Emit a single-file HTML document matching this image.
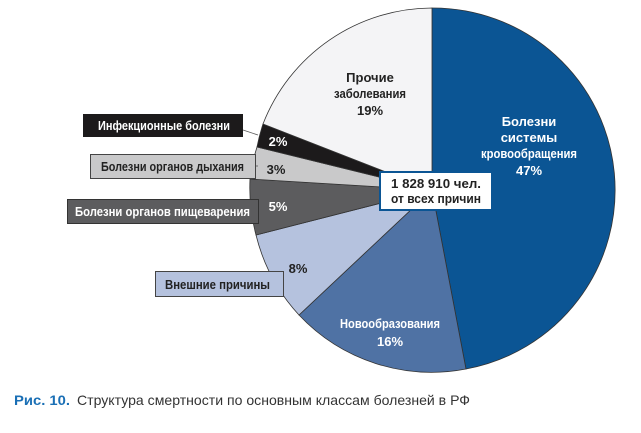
<!DOCTYPE html>
<html><head><meta charset="utf-8"><style>
body{margin:0;background:#fff;width:641px;height:428px;overflow:hidden}
svg text{font-family:"Liberation Sans",sans-serif;font-weight:bold;font-size:13px}
</style></head><body>
<svg width="641" height="428" viewBox="0 0 641 428">
<g stroke="#333" stroke-width="0.8">
<path d="M432,190 L432,8 A182,182 0 0 1 466,369 Z" fill="#0b5594"/>
<path d="M432,190 L466,369 A182,182 0 0 1 299,315 Z" fill="#4f72a4"/>
<path d="M432,190 L299,315 A182,182 0 0 1 256,235 Z" fill="#b5c2de"/>
<path d="M432,190 L256,235 A182,182 0 0 1 250,179 Z" fill="#5c5c5e"/>
<path d="M432,190 L250,179 A182,182 0 0 1 257,147 Z" fill="#c9c9ca"/>
<path d="M432,190 L257,147 A182,182 0 0 1 263,124 Z" fill="#1c1a1b"/>
<path d="M432,190 L263,124 A182,182 0 0 1 432,8 Z" fill="#f4f4f6"/>
</g>
<g stroke="#555" stroke-width="0.8">
<line x1="243" y1="130" x2="258" y2="135"/>
<line x1="255" y1="166" x2="258" y2="166"/>
</g>
<rect x="83" y="114" width="160" height="23" fill="#1c1a1b"/>
<text x="98" y="130" fill="#fff" textLength="132" lengthAdjust="spacingAndGlyphs">Инфекционные болезни</text>
<rect x="90.5" y="154.5" width="165" height="24" fill="#c9c9ca" stroke="#444"/>
<text x="101" y="171" fill="#222" textLength="143" lengthAdjust="spacingAndGlyphs">Болезни органов дыхания</text>
<rect x="67.5" y="199.5" width="191" height="24" fill="#5c5c5e" stroke="#333"/>
<text x="75" y="216" fill="#fff" textLength="175" lengthAdjust="spacingAndGlyphs">Болезни органов пищеварения</text>
<rect x="155.5" y="271.5" width="128" height="25" fill="#b5c2de" stroke="#444"/>
<text x="165" y="289" fill="#222" textLength="105" lengthAdjust="spacingAndGlyphs">Внешние причины</text>
<text x="278" y="146" fill="#fff" text-anchor="middle">2%</text>
<text x="276" y="174" fill="#222" text-anchor="middle">3%</text>
<text x="278" y="211" fill="#fff" text-anchor="middle">5%</text>
<text x="298" y="273" fill="#222" text-anchor="middle">8%</text>
<text x="370" y="82" fill="#222" text-anchor="middle">Прочие</text>
<text x="370" y="98" fill="#222" text-anchor="middle" textLength="72" lengthAdjust="spacingAndGlyphs">заболевания</text>
<text x="370" y="115" fill="#222" text-anchor="middle">19%</text>
<text x="529" y="126" fill="#fff" text-anchor="middle">Болезни</text>
<text x="529" y="142" fill="#fff" text-anchor="middle">системы</text>
<text x="529" y="158" fill="#fff" text-anchor="middle" textLength="96" lengthAdjust="spacingAndGlyphs">кровообращения</text>
<text x="529" y="175" fill="#fff" text-anchor="middle">47%</text>
<text x="390" y="328" fill="#fff" text-anchor="middle" textLength="100" lengthAdjust="spacingAndGlyphs">Новообразования</text>
<text x="390" y="346" fill="#fff" text-anchor="middle">16%</text>
<rect x="380" y="172" width="112" height="38" fill="#fff" stroke="#0b5594" stroke-width="2"/>
<text x="436" y="188" fill="#222" text-anchor="middle" textLength="90" lengthAdjust="spacingAndGlyphs">1 828 910 чел.</text>
<text x="436" y="203" fill="#222" text-anchor="middle" textLength="90" lengthAdjust="spacingAndGlyphs">от всех причин</text>
<text x="14" y="405" style="font-size:14px" fill="#1a6fb5" textLength="56" lengthAdjust="spacingAndGlyphs">Рис. 10.</text>
<text x="77" y="405" style="font-size:14px;font-weight:normal" fill="#333" textLength="393" lengthAdjust="spacingAndGlyphs">Структура смертности по основным классам болезней в РФ</text>
</svg>
</body></html>
